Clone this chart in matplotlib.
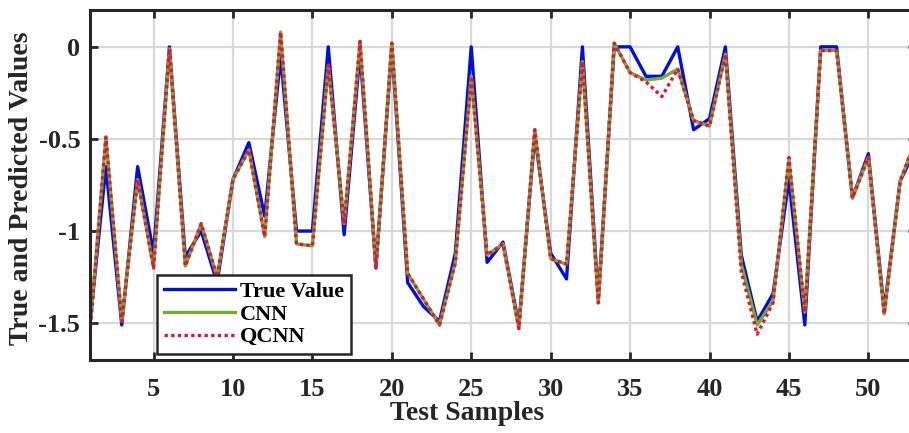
import matplotlib
matplotlib.use("Agg")
from matplotlib import pyplot as plt
import numpy as np

# test sample index 1..53 (plot is cut at the right edge)
samples = np.arange(1, 54)

true_value = [-1.50, -0.65, -1.51, -0.65, -1.12, 0.00, -1.14, -1.00, -1.28, -0.72,
              -0.52, -0.92, -0.05, -1.00, -1.00, 0.00, -1.02, -0.03, -1.20, 0.00,
              -1.28, -1.41, -1.49, -1.12, 0.00, -1.17, -1.06, -1.51, -0.48, -1.12,
              -1.26, 0.00, -1.37, 0.00, 0.00, -0.16, -0.16, 0.00, -0.45, -0.39,
              0.00, -1.13, -1.49, -1.34, -0.72, -1.51, 0.00, 0.00, -0.82, -0.58,
              -1.43, -0.73, -0.55]

cnn = [-1.53, -0.49, -1.49, -0.72, -1.20, -0.01, -1.19, -0.96, -1.25, -0.72,
       -0.56, -1.03, 0.08, -1.07, -1.08, -0.10, -0.96, 0.03, -1.20, 0.02,
       -1.23, -1.37, -1.51, -1.17, -0.16, -1.13, -1.07, -1.53, -0.45, -1.15,
       -1.18, -0.08, -1.39, 0.02, -0.14, -0.18, -0.17, -0.12, -0.40, -0.43,
       -0.04, -1.18, -1.51, -1.38, -0.61, -1.44, -0.02, -0.02, -0.82, -0.60,
       -1.45, -0.73, -0.50]

qcnn = [-1.55, -0.49, -1.49, -0.72, -1.20, -0.01, -1.19, -0.96, -1.25, -0.72,
        -0.56, -1.03, 0.08, -1.07, -1.08, -0.10, -0.96, 0.03, -1.20, 0.02,
        -1.23, -1.37, -1.51, -1.17, -0.16, -1.13, -1.07, -1.53, -0.45, -1.15,
        -1.18, -0.08, -1.39, 0.02, -0.14, -0.19, -0.27, -0.12, -0.40, -0.43,
        -0.04, -1.22, -1.56, -1.39, -0.60, -1.44, -0.02, -0.02, -0.82, -0.60,
        -1.45, -0.73, -0.50]

x_ticks = [5, 10, 15, 20, 25, 30, 35, 40, 45, 50]
y_ticks = [-1.5, -1, -0.5, 0]
y_tick_labels = ['-1.5', '-1', '-0.5', '0']

plt.rcParams['font.family'] = ['Liberation Serif', 'DejaVu Serif']
plt.rcParams['font.weight'] = 'bold'
plt.rcParams['axes.unicode_minus'] = False

fig = plt.figure(figsize=(9.09, 4.33), dpi=100)
# axes runs a bit past the right edge, like the cropped original
ax = fig.add_axes([90 / 909, 73 / 433, 826 / 909, 350 / 433])

ax.plot(samples, true_value, color='#0010D8', lw=2.4, label='True Value')
ax.plot(samples, cnn, color='#77AC30', lw=2.4, label='CNN')
ax.plot(samples, qcnn, color='#E3143C', lw=2.4, linestyle=(0, (1, 1)), label='QCNN')

ax.set_xlim(1, 53)
ax.set_ylim(-1.7, 0.2)
ax.set_xticks(x_ticks)
ax.set_yticks(y_ticks)
ax.set_yticklabels(y_tick_labels)
ax.grid(True, color='#D9D9D9', lw=1.6)
ax.set_axisbelow(True)

for s in ax.spines.values():
    s.set_linewidth(2.2)
    s.set_color('#262626')

ax.tick_params(axis='both', direction='in', length=6, width=2, colors='#262626',
               labelsize=19, top=True, right=True)
ax.tick_params(axis='x', pad=13)
ax.tick_params(axis='y', pad=7)

ax.set_xlabel('Test Samples', fontsize=20, fontweight='bold', color='#262626')
ax.set_ylabel('True and Predicted Values', fontsize=20, fontweight='bold', color='#262626')
ax.xaxis.set_label_coords(0.456, -0.117)
ax.yaxis.set_label_coords(-0.068, 0.49)

leg = ax.legend(loc='lower left', bbox_to_anchor=(0.081, 0.017), borderaxespad=0,
                fontsize=16, handlelength=3.2, handletextpad=0.25, labelspacing=0.1,
                borderpad=0.3, fancybox=False, framealpha=1)
leg.get_frame().set_edgecolor('#262626')
leg.get_frame().set_linewidth(1.8)
for t in leg.get_texts():
    t.set_fontweight('bold')

fig.savefig('out.png', dpi=100)
plt.close('all')
